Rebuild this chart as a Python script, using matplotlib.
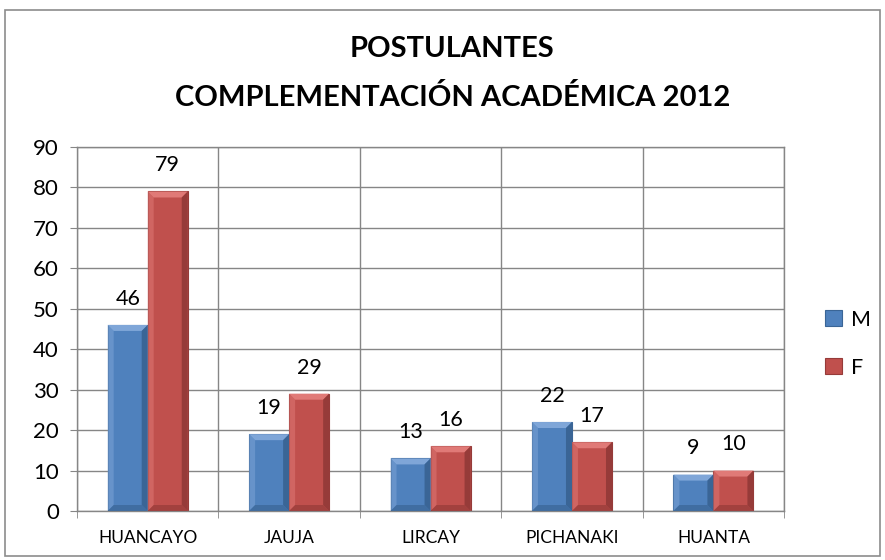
import matplotlib.pyplot as plt
import matplotlib.patches as mpatches
import numpy as np

plt.rcParams['font.family'] = ['Lato', 'DejaVu Sans']

sedes = ['HUANCAYO', 'JAUJA', 'LIRCAY', 'PICHANAKI', 'HUANTA']
masculino = [46, 19, 13, 22, 9]
femenino = [79, 29, 16, 17, 10]
series = ['M', 'F']
colores = ['#4F81BD', '#C0504D']
claros = ['#7FA6D8', '#E07A77']
oscuros = ['#3A6596', '#963B39']

fig = plt.figure(figsize=(8.85, 5.6), dpi=100)
# chart frame
fig.patches.append(mpatches.Rectangle((0.006, 0.008), 0.988, 0.975, transform=fig.transFigure,
                                      fill=False, edgecolor='#8C8C8C', linewidth=1.2))
ax = fig.add_axes([0.087, 0.0875, 0.799, 0.65])

x = np.arange(len(sedes))
w = 0.283


def bevel(ax, bar, light, dark):
    x0, y0 = bar.get_x(), bar.get_y()
    bw, bh = bar.get_width(), bar.get_height()
    # bevel size in data units (~6 px)
    bx = bw * 0.15
    by = 90 / 364 * 6
    by = min(by, bh / 2)
    top = mpatches.Polygon([(x0, y0 + bh), (x0 + bw, y0 + bh), (x0 + bw - bx, y0 + bh - by),
                            (x0 + bx, y0 + bh - by)], closed=True, facecolor=light, edgecolor='none', zorder=3)
    right = mpatches.Polygon([(x0 + bw, y0), (x0 + bw, y0 + bh), (x0 + bw - bx, y0 + bh - by),
                              (x0 + bw - bx, y0 + by)], closed=True, facecolor=dark, edgecolor='none', zorder=3)
    left = mpatches.Polygon([(x0, y0), (x0, y0 + bh), (x0 + bx, y0 + bh - by),
                             (x0 + bx, y0 + by)], closed=True, facecolor=light, edgecolor='none', alpha=0.5, zorder=3)
    bottom = mpatches.Polygon([(x0, y0), (x0 + bw, y0), (x0 + bw - bx, y0 + by),
                               (x0 + bx, y0 + by)], closed=True, facecolor=dark, edgecolor='none', alpha=0.7, zorder=3)
    for p in (top, right, left, bottom):
        ax.add_patch(p)


for i, vals in enumerate([masculino, femenino]):
    bars = ax.bar(x + (i - 0.5) * w, vals, w, color=colores[i], edgecolor=oscuros[i],
                  linewidth=0.8, zorder=2, label=series[i])
    for b in bars:
        bevel(ax, b, claros[i], oscuros[i])
        ax.text(b.get_x() + b.get_width() / 2, b.get_height() + 4.0, f'{int(b.get_height())}',
                ha='center', va='bottom', fontsize=15.5, color='black')

ax.set_xlim(-0.5, len(sedes) - 0.5)
ax.set_ylim(0, 90)
ax.set_yticks(np.arange(0, 91, 10))
ax.set_xticks(x)
ax.set_xticklabels(sedes, fontsize=12.5)
ax.set_xticks(np.arange(-0.5, len(sedes), 1), minor=True)
ax.tick_params(axis='y', labelsize=16, length=5, color='#868686', pad=8)
ax.tick_params(axis='x', which='major', length=0, pad=14)
ax.tick_params(axis='x', which='minor', length=5, color='#868686')
ax.grid(axis='y', color='#868686', linewidth=1.0, zorder=0)
ax.grid(axis='x', which='minor', color='#868686', linewidth=1.0, zorder=0)
ax.set_axisbelow(True)
for s in ax.spines.values():
    s.set_color('#868686')
    s.set_linewidth(1.0)

fig.text(0.511, 0.912, 'POSTULANTES', ha='center', va='center', fontsize=21, fontweight='bold')
fig.text(0.511, 0.826, 'COMPLEMENTACIÓN ACADÉMICA 2012', ha='center', va='center', fontsize=21,
         fontweight='bold')

leg = ax.legend(loc='center left', bbox_to_anchor=(1.03, 0.46), frameon=False, fontsize=15.5,
                handlelength=0.8, handleheight=0.8, labelspacing=1.3, handletextpad=0.4)

plt.savefig('out.png', dpi=100)
